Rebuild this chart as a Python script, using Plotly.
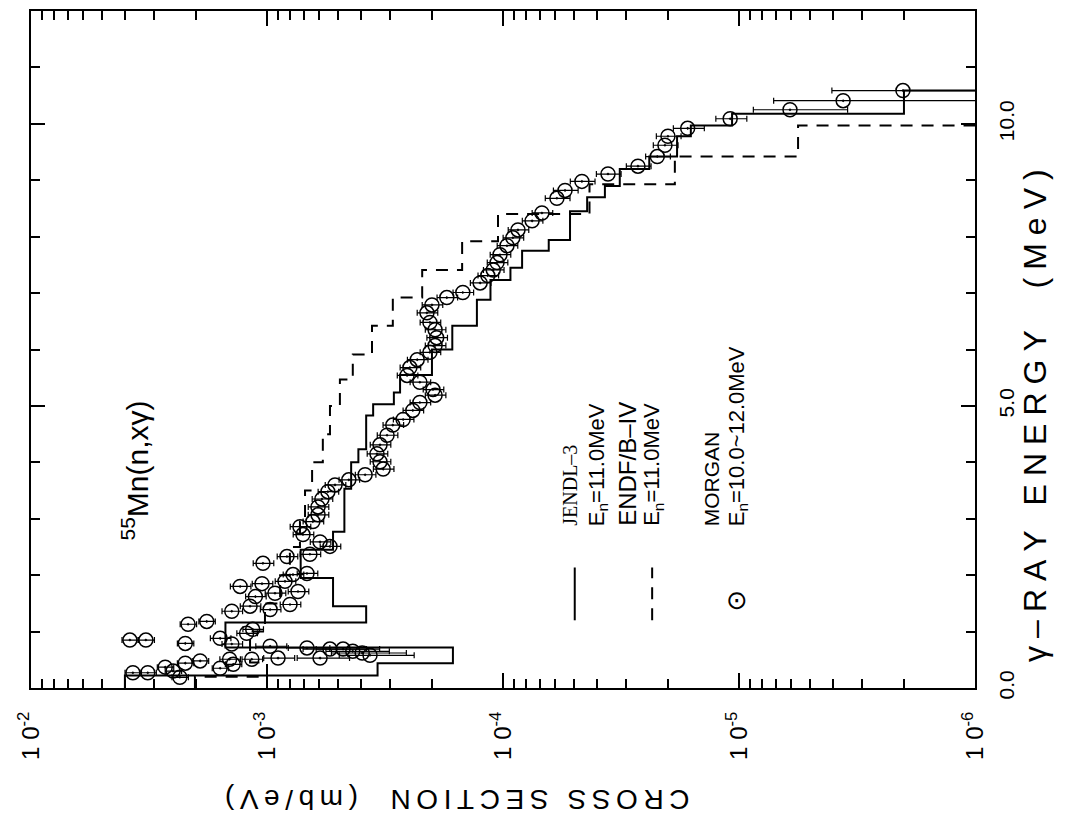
import plotly.graph_objects as go

# JENDL-3, En = 11.0 MeV : gamma-ray energy bin edges (MeV) and cross section (mb/eV)
jendl_edges = [0.0, 0.22, 0.44, 0.72, 1.16, 1.45, 1.95, 2.45, 2.77, 3.53, 4.0, 4.23,
               4.83, 5.03, 5.24, 5.55, 6.0, 6.42, 6.88, 7.23, 7.45, 7.75, 7.94, 8.45,
               8.7, 8.9, 9.2, 9.42, 9.78, 9.97, 10.18, 10.59, 12.0]
jendl_xs = [4.0e-3, 3.4e-4, 1.63e-4, 1.5e-3, 3.8e-4, 5.25e-4, 7.2e-4, 5.25e-4, 4.7e-4,
            4.4e-4, 4.1e-4, 3.8e-4, 3.55e-4, 2.9e-4, 2.73e-4, 2.0e-4, 1.64e-4, 1.29e-4,
            1.13e-4, 9.3e-5, 8.3e-5, 6.4e-5, 5.2e-5, 4.4e-5, 3.7e-5, 3.2e-5, 2.4e-5,
            1.83e-5, 1.6e-5, 1.07e-5, 2.0e-6, 1e-7]

# ENDF/B-IV, En = 11.0 MeV
endf_edges = [0.0, 0.2, 0.45, 1.0, 1.5, 2.0, 2.5, 2.95, 3.5, 4.0, 4.5, 5.0, 5.47, 5.91,
              6.42, 6.92, 7.41, 7.92, 8.4, 8.93, 9.42, 9.97, 12.0]
endf_xs = [2.02e-3, 1.0e-3, 1.18e-3, 1.02e-3, 8.8e-4, 8.0e-4, 7.25e-4, 6.9e-4, 6.44e-4,
           5.8e-4, 5.41e-4, 4.91e-4, 4.33e-4, 3.59e-4, 2.93e-4, 2.2e-4, 1.49e-4, 1.05e-4,
           4.3e-5, 1.87e-5, 5.62e-6, 1e-7]

# MORGAN, En = 10.0~12.0 MeV : measured points
morgan_e = [0.19, 0.27, 0.27, 0.30, 0.35, 0.37, 0.42, 0.44, 0.48, 0.51, 0.51, 0.53, 0.53,
            0.58, 0.62, 0.65, 0.69, 0.69, 0.71, 0.74, 0.78, 0.79, 0.85, 0.85, 0.88, 0.97,
            1.04, 1.13, 1.18, 1.36, 1.39, 1.45, 1.48, 1.62, 1.68, 1.71, 1.80, 1.85, 1.89,
            2.01, 2.03, 2.21, 2.33, 2.37, 2.51, 2.59, 2.72, 2.86, 2.95, 3.07, 3.21, 3.35,
            3.48, 3.60, 3.69, 3.78, 3.88, 4.01, 4.15, 4.31, 4.48, 4.66, 4.76, 4.92, 5.06,
            5.19, 5.29, 5.42, 5.54, 5.68, 5.82, 5.95, 6.07, 6.21, 6.35, 6.48, 6.65, 6.79,
            6.92, 7.01, 7.18, 7.31, 7.41, 7.54, 7.68, 7.84, 7.98, 8.12, 8.28, 8.42, 8.68,
            8.82, 8.98, 9.11, 9.25, 9.42, 9.62, 9.78, 9.92, 10.09, 10.25, 10.41, 10.59]
morgan_xs = [2.34e-3, 3.70e-3, 3.20e-3, 2.50e-3, 1.58e-3, 2.70e-3, 1.39e-3, 2.22e-3,
             1.92e-3, 1.44e-3, 1.16e-3, 8.98e-4, 5.96e-4, 3.66e-4, 3.95e-4, 4.33e-4,
             5.41e-4, 4.76e-4, 6.77e-4, 9.7e-4, 1.41e-3, 2.22e-3, 3.81e-3, 3.26e-3,
             1.58e-3, 1.22e-3, 1.15e-3, 2.16e-3, 1.80e-3, 1.41e-3, 9.7e-4, 1.18e-3,
             7.99e-4, 1.12e-3, 9.25e-4, 7.39e-4, 1.30e-3, 1.05e-3, 8.39e-4, 7.76e-4,
             6.77e-4, 1.04e-3, 8.23e-4, 6.58e-4, 5.41e-4, 5.96e-4, 7.04e-4, 7.25e-4,
             6.39e-4, 6.08e-4, 6.08e-4, 5.85e-4, 5.52e-4, 5.15e-4, 4.50e-4, 3.84e-4,
             3.22e-4, 3.32e-4, 3.42e-4, 3.32e-4, 3.10e-4, 2.93e-4, 2.65e-4, 2.41e-4,
             2.25e-4, 1.94e-4, 1.98e-4, 2.25e-4, 2.55e-4, 2.48e-4, 2.31e-4, 2.04e-4,
             1.94e-4, 1.91e-4, 1.94e-4, 2.04e-4, 2.10e-4, 2.00e-4, 1.73e-4, 1.48e-4,
             1.25e-4, 1.16e-4, 1.10e-4, 1.06e-4, 1.03e-4, 9.62e-5, 9.08e-5, 8.64e-5,
             7.53e-5, 6.84e-5, 5.91e-5, 5.46e-5, 4.63e-5, 3.59e-5, 2.68e-5, 2.22e-5,
             2.06e-5, 2.00e-5, 1.65e-5, 1.09e-5, 6.08e-6, 3.62e-6, 2.02e-6]
# relative error (percent)
morgan_err = [8, 8, 8, 8, 8, 8, 8, 8, 8, 10, 10, 15, 25, 35, 35, 30, 30, 30, 20, 15, 10,
              8, 8, 8, 10, 10, 10, 8, 8, 10, 10, 10, 10, 10, 10, 10, 10, 10, 10, 10, 10,
              10, 10, 10, 10, 10, 10, 10, 10, 10, 10, 10, 10, 10, 10, 10, 10, 10, 10, 10,
              10, 10, 10, 10, 10, 10, 10, 10, 10, 10, 10, 10, 10, 10, 10, 10, 10, 10, 10,
              10, 10, 10, 10, 10, 10, 10, 10, 10, 10, 10, 12, 12, 12, 12, 12, 12, 12, 12,
              15, 15, 43, 97, 100]

xs_major = [1e-2, 1e-3, 1e-4, 1e-5, 1e-6]
xs_labels = ['1 0<sup>-2</sup>', '1 0<sup>-3</sup>', '1 0<sup>-4</sup>',
             '1 0<sup>-5</sup>', '1 0<sup>-6</sup>']
e_major = [0, 5, 10]
e_labels = ['0.0', '5.0', '10.0']

# minor ticks at 2..9 in every decade, every 1 MeV on energy axis
xs_minor = [m * d for d in [1e-3, 1e-4, 1e-5, 1e-6] for m in range(2, 10)]
e_minor = list(range(0, 13))


def spaced(s, gap):
    # widen the lettering like the original drawing
    return gap.join(s)


fig = go.Figure()

# step histograms: constant cross section inside each energy bin
fig.add_trace(go.Scatter(
    x=jendl_xs + [jendl_xs[-1]], y=jendl_edges,
    mode='lines', line=dict(color='black', width=2, shape='vh'),
    name='JENDL-3', showlegend=False))
fig.add_trace(go.Scatter(
    x=endf_xs + [endf_xs[-1]], y=endf_edges,
    mode='lines', line=dict(color='black', width=2, shape='vh', dash='12px,9px'),
    name='ENDF/B-IV', showlegend=False))

err_hi = [v * p / 100 for v, p in zip(morgan_xs, morgan_err)]
err_lo = [min(v * p / 100, 0.97 * v) for v, p in zip(morgan_xs, morgan_err)]
fig.add_trace(go.Scatter(
    x=morgan_xs, y=morgan_e, mode='markers',
    marker=dict(symbol='circle-open-dot', size=14, color='black', line=dict(width=1.5)),
    error_x=dict(type='data', symmetric=False, array=err_hi, arrayminus=err_lo,
                 color='black', thickness=1.2, width=3),
    name='MORGAN', showlegend=False))

sans = 'Liberation Sans'

fig.update_xaxes(
    type='log', range=[-2, -6],
    showline=True, linecolor='black', linewidth=2, mirror='allticks',
    ticks='inside', ticklen=15, tickwidth=1.5, tickcolor='black',
    tickmode='array', tickvals=xs_major, ticktext=xs_labels, tickangle=-90,
    tickfont=dict(family=sans, size=24, color='black'), ticklabelstandoff=12,
    minor=dict(tickvals=xs_minor, ticks='inside', ticklen=9, tickwidth=1.5, tickcolor='black'),
    showgrid=False, zeroline=False)

fig.update_yaxes(
    range=[0, 12], side='right',
    showline=True, linecolor='black', linewidth=2, mirror='allticks',
    ticks='inside', ticklen=14, tickwidth=1.5, tickcolor='black',
    tickmode='array', tickvals=e_major, ticktext=e_labels, tickangle=-90,
    tickfont=dict(family=sans, size=21, color='black'), ticklabelstandoff=12,
    minor=dict(tickvals=e_minor, ticks='inside', ticklen=9, tickwidth=1.5, tickcolor='black'),
    showgrid=False, zeroline=False)

annotations = [
    # axis titles
    dict(text=spaced('\u03b3\u2013RAY ENERGY  (MeV)', '\u2005'), x=1.0636, y=0.402,
         textangle=-90, font=dict(family=sans, size=32)),
    dict(text=spaced('CROSS SECTION  (mb/eV)', '\u2009'), x=0.451, y=-0.165,
         textangle=180, font=dict(family=sans, size=28)),
    # reaction label
    dict(text='<sup>55</sup>Mn(n,x\u03b3)', x=0.110, y=0.321, textangle=-90,
         font=dict(family=sans, size=30)),
    # legend texts
    dict(text='JENDL\u20133', x=0.571, y=0.236, yanchor='bottom', textangle=-90,
         font=dict(family='Liberation Serif', size=20)),
    dict(text='E<sub>n</sub>=11.0MeV', x=0.600, y=0.236, yanchor='bottom', textangle=-90,
         font=dict(family=sans, size=22)),
    dict(text='ENDF/B\u2013IV', x=0.632, y=0.236, yanchor='bottom', textangle=-90,
         font=dict(family=sans, size=24)),
    dict(text='E<sub>n</sub>=11.0MeV', x=0.659, y=0.236, yanchor='bottom', textangle=-90,
         font=dict(family=sans, size=22)),
    dict(text='MORGAN', x=0.721, y=0.236, yanchor='bottom', textangle=-90,
         font=dict(family=sans, size=21)),
    dict(text='E<sub>n</sub>=10.0~12.0MeV', x=0.749, y=0.236, yanchor='bottom', textangle=-90,
         font=dict(family=sans, size=22)),
    dict(text='\u2299', x=0.748, y=0.130, font=dict(family='DejaVu Sans', size=26)),
]
for a in annotations:
    a.setdefault('xref', 'paper')
    a.setdefault('yref', 'paper')
    a.setdefault('xanchor', 'center')
    a.setdefault('yanchor', 'middle')
    a.setdefault('showarrow', False)
    a['font'].setdefault('color', 'black')

shapes = [
    dict(type='line', xref='paper', yref='paper', x0=0.576, x1=0.576, y0=0.100, y1=0.178,
         line=dict(color='black', width=2)),
    dict(type='line', xref='paper', yref='paper', x0=0.658, x1=0.658, y0=0.100, y1=0.178,
         line=dict(color='black', width=2, dash='12px,9px')),
]

fig.update_layout(
    width=1059, height=831,
    margin=dict(l=23, r=92, t=1, b=151),
    paper_bgcolor='white', plot_bgcolor='white',
    font=dict(family=sans, size=18, color='black'),
    annotations=annotations, shapes=shapes,
    showlegend=False)

fig.write_html('out.html')
